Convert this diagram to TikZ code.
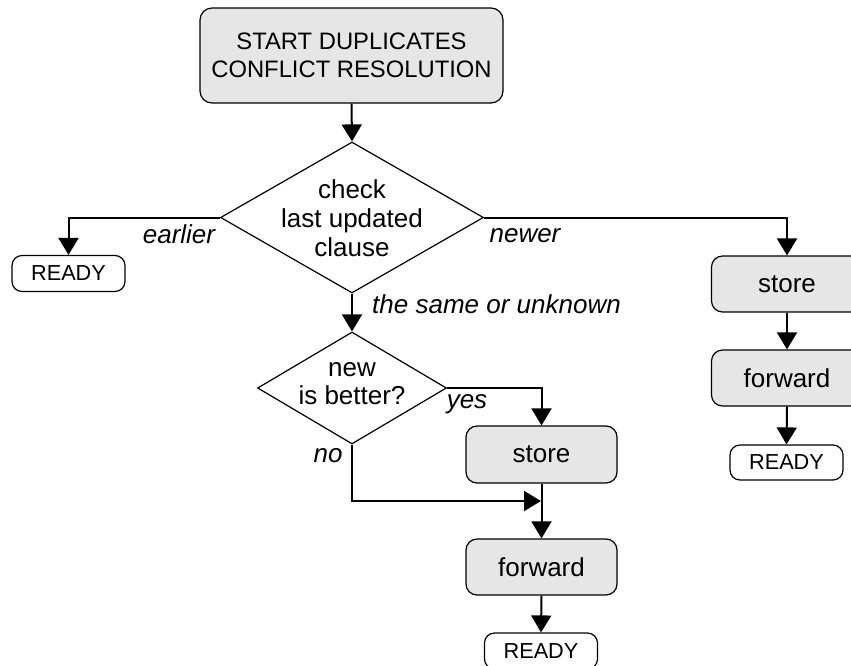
\documentclass[tikz,border=0pt]{standalone}
\usepackage{fontspec}
\setmainfont{Liberation Sans}
\usetikzlibrary{shapes.geometric,arrows.meta}
\definecolor{boxgray}{RGB}{230,230,230}
\tikzset{
  procbox/.style={draw=black, line width=1.2pt, fill=boxgray, rounded corners=11pt,
    minimum width=151pt, minimum height=56pt, inner sep=0pt, align=center,
    font=\fontsize{26}{28}\selectfont},
  readybox/.style={draw=black, line width=1.2pt, fill=white, rounded corners=10pt,
    minimum width=113pt, minimum height=36pt, inner sep=0pt,
    font=\fontsize{21.7}{24}\selectfont},
  decision/.style={draw=black, line width=1.2pt, fill=white, diamond, inner sep=0pt},
  dtext/.style={align=center, inner sep=0pt, font=\fontsize{26}{29}\selectfont},
  conn/.style={line width=2pt, -{Triangle[length=17pt,width=20pt]}},
  lbl/.style={font=\fontsize{26}{28}\selectfont\itshape, inner sep=0pt}
}
\begin{document}
\begin{tikzpicture}[x=1pt,y=-1pt]
\useasboundingbox (0,0) rectangle (851,665);
\clip (0,0) rectangle (851,665);
\node[procbox, minimum width=303pt, minimum height=95pt, rounded corners=12pt,
  font=\fontsize{23.8}{28}\selectfont] (start) at (351.5,55.5)
  {START DUPLICATES\\CONFLICT RESOLUTION};
\node[decision, minimum width=263pt, minimum height=151pt] (d1) at (352,217.5) {};
\node[dtext] (d1t) at (352,218) {check\\last updated\\clause};
\node[readybox] (ready1) at (68.5,273.5) {READY};
\node[procbox] (store1) at (787,284) {store};
\node[procbox] (fwd1) at (787,378) {forward};
\node[readybox, minimum height=35pt] (ready2) at (786.5,462.5) {READY};
\node[decision, minimum width=189pt, minimum height=112pt] (d2) at (352,388) {};
\node[dtext, font=\fontsize{26}{28}\selectfont] (d2t) at (352,384) {new\\is better?};
\node[procbox, minimum height=57pt] (store2) at (541.5,454.5) {store};
\node[procbox] (fwd2) at (541.5,567) {forward};
\node[readybox] (ready3) at (541,651) {READY};
\coordinate (join) at (541,501);

\draw[conn] (start.south) -- (d1.north);
\draw[conn] (d1.west) -| (ready1.north);
\draw[conn] (d1.east) -| (store1.north);
\draw[conn] (d1.south) -- (d2.north);
\draw[conn] (d2.east) -| (store2.north);
\draw[conn] (d2.south) |- (join);
\draw[conn] (store2.south) -- (fwd2.north);
\draw[conn] (fwd2.south) -- (ready3.north);
\draw[conn] (store1.south) -- (fwd1.north);
\draw[conn] (fwd1.south) -- (ready2.north);

\node[lbl, anchor=base] (learlier) at (179,243) {earlier};
\node[lbl, anchor=base] (lnewer) at (525,242) {newer};
\node[lbl, anchor=base west] (lsame) at (372,313) {the same or unknown};
\node[lbl, anchor=base] (lyes) at (467,408) {yes};
\node[lbl, anchor=base] (lno) at (328,462) {no};
\end{tikzpicture}
\end{document}
